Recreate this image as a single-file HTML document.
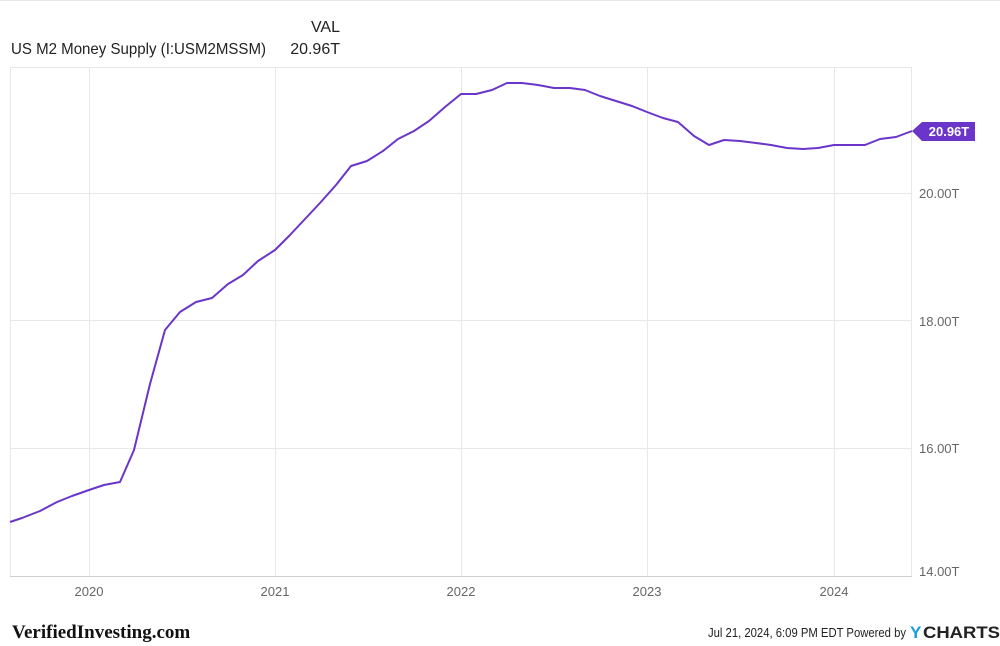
<!DOCTYPE html>
<html><head><style>
body{margin:0;background:#fff;font-family:"Liberation Sans",sans-serif;}
</style></head><body>
<svg width="1000" height="646" xmlns="http://www.w3.org/2000/svg" style="display:block">
<rect width="1000" height="646" fill="#fff"/>
<line x1="0" y1="0.5" x2="1000" y2="0.5" stroke="#e6e6e6"/>
<text x="340" y="32" font-size="16" text-anchor="end" fill="#222">VAL</text>
<text x="11" y="54" font-size="16" fill="#222" textLength="255" lengthAdjust="spacingAndGlyphs">US M2 Money Supply (I:USM2MSSM)</text>
<text x="340" y="54" font-size="16" text-anchor="end" fill="#222">20.96T</text>
<g stroke="#e8e8e8" stroke-width="1">
<line x1="10" y1="67.5" x2="912" y2="67.5"/>
<line x1="10.5" y1="67" x2="10.5" y2="576"/>
<line x1="911.5" y1="67" x2="911.5" y2="576"/>
<line x1="10" y1="193.5" x2="912" y2="193.5"/>
<line x1="10" y1="320.5" x2="912" y2="320.5"/>
<line x1="10" y1="448.5" x2="912" y2="448.5"/>
<line x1="89.5" y1="67" x2="89.5" y2="576"/>
<line x1="275.5" y1="67" x2="275.5" y2="576"/>
<line x1="461.5" y1="67" x2="461.5" y2="576"/>
<line x1="647.5" y1="67" x2="647.5" y2="576"/>
<line x1="834.5" y1="67" x2="834.5" y2="576"/>
</g>
<line x1="10" y1="576.5" x2="912" y2="576.5" stroke="#cfcfcf"/>
<g font-size="13" fill="#666">
<text x="919" y="198">20.00T</text>
<text x="919" y="326">18.00T</text>
<text x="919" y="453">16.00T</text>
<text x="919" y="576">14.00T</text>
<g text-anchor="middle">
<text x="89" y="596">2020</text><text x="275" y="596">2021</text><text x="461" y="596">2022</text><text x="647" y="596">2023</text><text x="834" y="596">2024</text>
</g></g>
<polyline fill="none" stroke="#6a35c8" stroke-width="2" stroke-linejoin="round" points="10,522 22,518 40,511 57,502 72,496 89,490 104,485 120,482 134,450 150,384 165,330 180,312 196,302 212,298 228,284 243,275 258,261 275,250 290,235 305,219 320,203 336,185 351,166 367,161 383,151 398,139 414,131 429,121 445,107 461,94 476,94 492,90 507,83 522,83 538,85 554,88 570,88 585,90 600,96 616,101 632,106 647,112 663,118 678,122 694,136 709,145 724,140 740,141 756,143 771,145 787,148 803,149 818,148 834,145 849,145 865,145 880,139 896,137 912,131"/>
<polygon points="912,131 922,122 975,122 975,141 922,141" fill="#6a35c8"/>
<text x="949" y="136" font-size="13" font-weight="bold" fill="#fff" text-anchor="middle">20.96T</text>
<text x="12" y="638" font-family="Liberation Serif,serif" font-size="19" font-weight="bold" fill="#111">VerifiedInvesting.com</text>
<text x="906" y="637" font-size="13" fill="#222" text-anchor="end" textLength="198" lengthAdjust="spacingAndGlyphs">Jul 21, 2024, 6:09 PM EDT Powered by</text>
<text x="910" y="638" font-size="17" font-weight="bold" fill="#1a9be0">Y</text>
<text x="923" y="638" font-size="17" font-weight="bold" fill="#222" textLength="77" lengthAdjust="spacingAndGlyphs">CHARTS</text>
</svg>
</body></html>
